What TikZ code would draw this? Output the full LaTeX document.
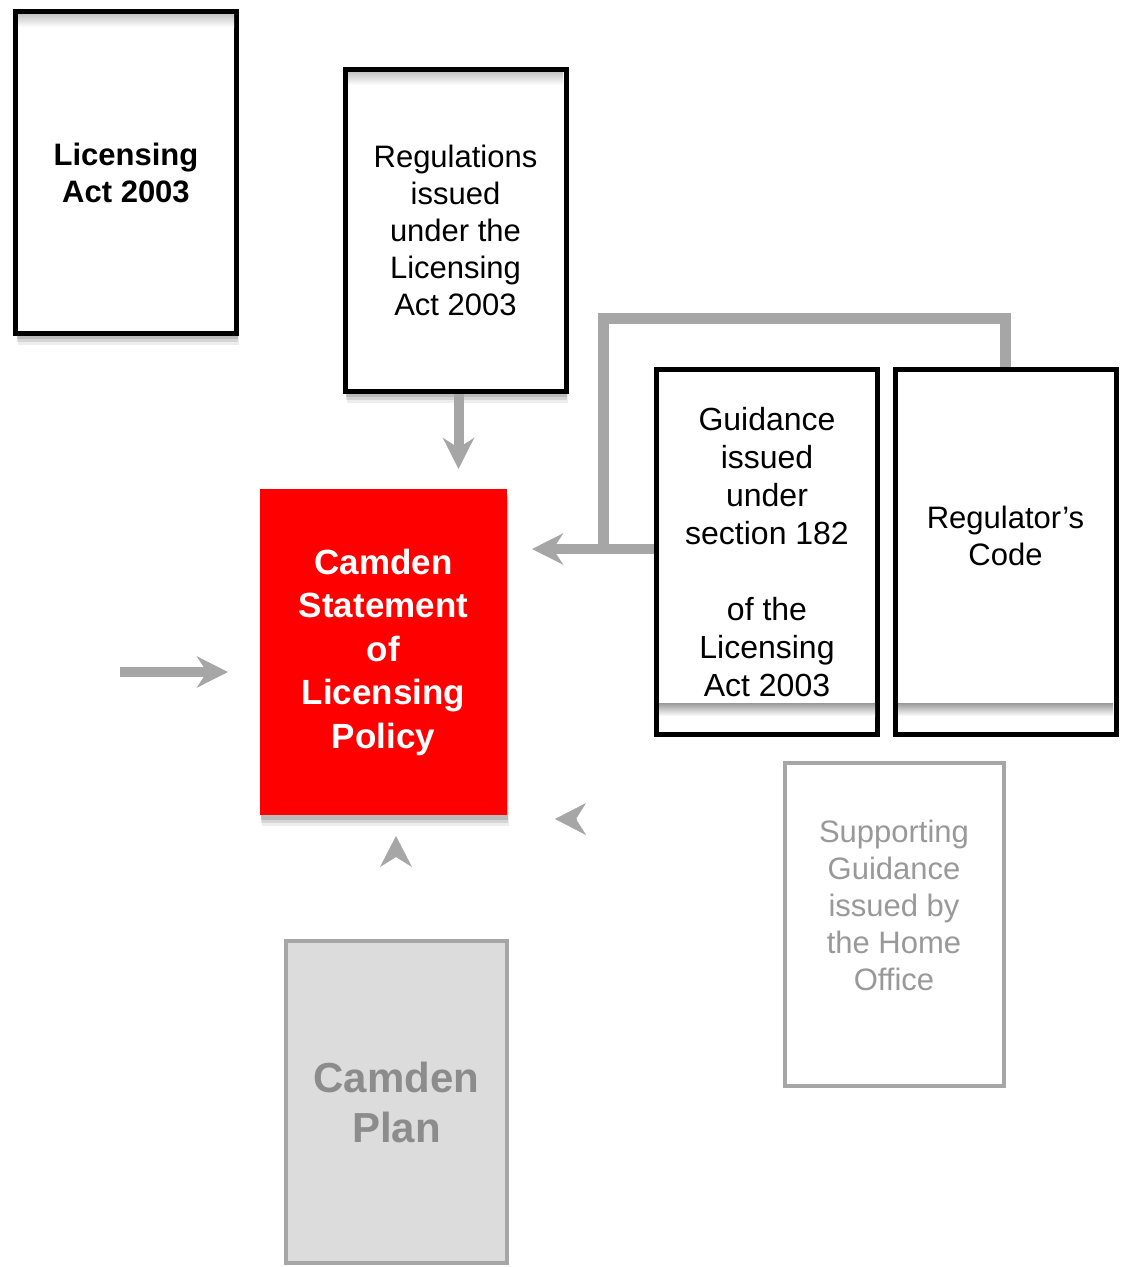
\documentclass[tikz,border=0pt]{standalone}
\usepackage{fontspec}
\setmainfont{Liberation Sans}
\usetikzlibrary{arrows.meta,shadows}
\definecolor{arrgray}{HTML}{A6A6A6}
\definecolor{plangray}{HTML}{DCDCDC}
\definecolor{plantext}{HTML}{8C8C8C}
\definecolor{suptext}{HTML}{999999}
\begin{document}
\begin{tikzpicture}[x=1pt,y=-1pt,
  docbox/.style={draw=black,line width=5pt,fill=white,inner sep=0pt,align=center,
    minimum width=221pt,minimum height=322pt,font=\fontsize{31}{37}\selectfont},
  tallbox/.style={docbox,minimum height=365pt,font=\fontsize{32}{38}\selectfont},
  greybox/.style={draw=arrgray,line width=4pt,inner sep=0pt,align=center,
    minimum width=219pt,minimum height=323pt},
  lifted/.style={drop shadow={shadow xshift=1pt,shadow yshift=-5pt,opacity=0.12,fill=black},
    drop shadow={shadow xshift=1pt,shadow yshift=-8pt,opacity=0.1,fill=black},
    drop shadow={shadow xshift=2pt,shadow yshift=-11pt,opacity=0.07,fill=black}},
  flow/.style={draw=arrgray,line width=10pt,-{Stealth[length=31pt,width=31pt,inset=10pt]}},
  link/.style={draw=arrgray,line width=11pt},
  tiponly/.style={draw=arrgray,line width=0.5pt,-{Stealth[length=31pt,width=32pt,inset=10pt]}},
  inshade/.style={top color=black!40,bottom color=white}]
\useasboundingbox (0,0) rectangle (1126,1267);

\node[docbox,lifted,font=\bfseries\fontsize{31}{37}\selectfont] (act) at (126,172.5) {Licensing\\Act 2003};
\node[docbox,lifted] (regs) at (455.5,230.5) {Regulations\\issued\\under the\\Licensing\\Act 2003};
\shade[top color=black!22,bottom color=white] (18,14.5) rectangle (234,27);
\shade[top color=black!22,bottom color=white] (348,72.5) rectangle (563,85);

\node[lifted,fill=red,inner sep=0pt,minimum width=247pt,minimum height=326pt,align=center,
  text=white,font=\bfseries\fontsize{35}{43.5}\selectfont] (policy) at (383.5,652)
  {Camden\\Statement\\of\\Licensing\\Policy};

\node[tallbox] (guid) at (767,552) {Guidance\\issued\\under\\section 182\\[38pt]of the\\Licensing\\Act 2003};
\node[tallbox] (code) at (1005.5,552) {};
\node[align=center,font=\fontsize{31}{37}\selectfont] (codetext) at ([yshift=16pt]code.center) {Regulator’s\\Code};
\shade[inshade] (659,703) rectangle (875,716);
\shade[inshade] (898,703) rectangle (1113,716);

\node[greybox,fill=white] (sup) at (894,924.5) {};
\node[align=center,text=suptext,font=\fontsize{31}{37}\selectfont] (suptext) at ([yshift=19pt]sup.center)
  {Supporting\\Guidance\\issued by\\the Home\\Office};

\node[greybox,fill=plangray,minimum width=221pt,minimum height=322pt,text=plantext,
  font=\bfseries\fontsize{42}{50}\selectfont] (plan) at (396.5,1102) {Camden\\Plan};

\coordinate (regtip) at (458.5,469);
\draw[flow] ([xshift=3pt]regs.south) -- (regs.south -| regtip) -- (regtip);

\coordinate (lefttail) at (120,672);
\coordinate (lefttip) at (228,672);
\draw[flow] (lefttail) -- (lefttip);

\coordinate (guidtip) at (532,549);
\coordinate (bend) at (603,318);
\draw[link] (code.north) |- (bend) -- (bend |- guidtip);
\draw[flow] (guid.west |- guidtip) -- (guidtip);

\coordinate (sidenotch) at (577,819);
\coordinate (sidetip) at (555,819);
\draw[tiponly] (sidenotch) -- (sidetip);
\coordinate (upnotch) at (396,856);
\coordinate (uptip) at (396,836);
\draw[tiponly] (upnotch) -- (uptip);
\end{tikzpicture}
\end{document}
